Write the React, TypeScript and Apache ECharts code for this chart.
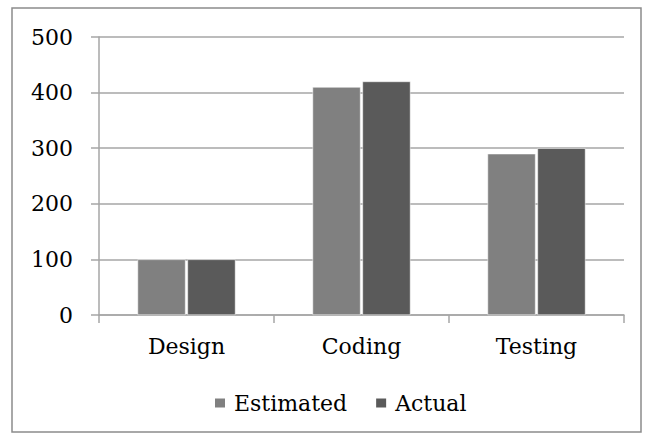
import React, { useEffect, useRef } from "react";
import * as echarts from "echarts";

const categories = ["Design", "Coding", "Testing"];
const estimated = [100, 410, 290];
const actual = [100, 420, 300];
const seriesNames = ["Estimated", "Actual"];

export default function App() {
  const ref = useRef<HTMLDivElement>(null);
  useEffect(() => {
    const chart = echarts.init(ref.current!, null, { renderer: "svg" });
    const font = "DejaVu Serif";
    chart.setOption({
      animation: false,
      backgroundColor: "#ffffff",
      textStyle: { fontFamily: font },
      graphic: [
        {
          type: "rect",
          shape: { x: 12, y: 8, width: 629, height: 424 },
          style: { fill: "none", stroke: "#8c8c8c", lineWidth: 1.5 },
          silent: true,
        },
      ],
      legend: {
        data: seriesNames,
        top: 392,
        left: 213,
        padding: 0,
        itemWidth: 12,
        itemHeight: 11,
        itemGap: 27,
        icon: "rect",
        textStyle: { fontFamily: font, fontSize: 22, color: "#000", padding: [0, 0, 0, 3] },
      },
      grid: { left: 99, right: 26, top: 37, bottom: 125, containLabel: false },
      xAxis: {
        type: "category",
        data: categories,
        axisLine: { lineStyle: { color: "#a6a6a6", width: 1.5 } },
        axisTick: { show: true, length: 8, alignWithLabel: false, lineStyle: { color: "#a6a6a6", width: 1.5 } },
        axisLabel: { fontFamily: font, fontSize: 22, color: "#000", margin: 20 },
      },
      yAxis: {
        type: "value",
        min: 0,
        max: 500,
        interval: 100,
        axisLine: { show: true, lineStyle: { color: "#a6a6a6", width: 1.5 } },
        axisTick: { show: true, length: 8, lineStyle: { color: "#a6a6a6", width: 1.5 } },
        splitLine: { lineStyle: { color: "#a6a6a6", width: 1.5 } },
        axisLabel: { fontFamily: font, fontSize: 22, color: "#000", margin: 26 },
      },
      series: [
        {
          name: seriesNames[0],
          type: "bar",
          data: estimated,
          barWidth: 48,
          barGap: "4%",
          itemStyle: { color: "#808080", borderColor: "#ffffff", borderWidth: 0.5 },
        },
        {
          name: seriesNames[1],
          type: "bar",
          data: actual,
          barWidth: 48,
          barGap: "4%",
          itemStyle: { color: "#5a5a5a", borderColor: "#ffffff", borderWidth: 0.5 },
        },
      ],
    });
    return () => chart.dispose();
  }, []);
  return (
    <div
      ref={ref}
      style={{ position: "fixed", left: 0, top: 0, width: 650, height: 440 }}
    />
  );
}
